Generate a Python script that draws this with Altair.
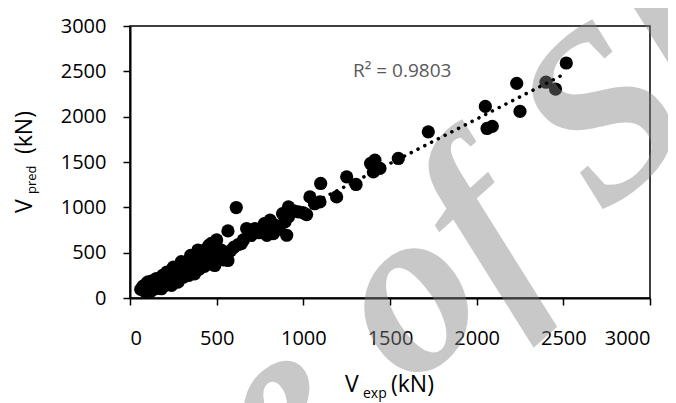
import altair as alt
import pandas as pd

# Experimental vs predicted shear strength (kN)
x_exp = [62, 75, 88, 95, 104, 112, 120, 128, 135, 145, 152, 160, 170, 181, 188, 195, 205, 212,
         220, 230, 240, 245, 250, 255, 265, 277, 285, 296, 300, 310, 320, 330, 340, 350, 350,
         360, 373, 378, 385, 392, 400, 410, 420, 430, 440, 450, 455, 460, 469, 475, 489, 495,
         500, 505, 515, 527, 540, 550, 565, 565, 580, 600, 613, 625, 642, 654, 673, 700, 721,
         745, 760, 775, 790, 798, 808, 827, 840, 860, 880, 894, 904, 914, 914, 945, 971, 1000,
         1019, 1038, 1065, 1096, 1100, 1192, 1250, 1304, 1388, 1404, 1413, 1442, 1548, 1721,
         2050, 2060, 2090, 2231, 2250, 2400, 2455, 2517]
v_pred = [95, 130, 70, 160, 178, 110, 75, 190, 140, 100, 215, 165, 120, 102, 250, 190, 140, 285,
          220, 170, 140, 310, 340, 250, 200, 175, 330, 400, 280, 230, 360, 300, 250, 420, 470,
          340, 267, 460, 390, 529, 320, 470, 400, 350, 540, 450, 580, 380, 602, 500, 359, 560,
          640, 430, 490, 527, 420, 470, 414, 740, 520, 560, 998, 590, 600, 640, 766, 690, 766,
          720, 760, 820, 690, 766, 858, 711, 800, 760, 930, 839, 692, 1005, 894, 960, 950, 940,
          920, 1115, 1040, 1060, 1263, 1115, 1336, 1252, 1484, 1391, 1520, 1429, 1539, 1833,
          2113, 1870, 1893, 2367, 2058, 2380, 2305, 2592]

tick_values = [0, 500, 1000, 1500, 2000, 2500, 3000]
r2_label = "R² = 0.9803"
watermark = "e of Sh"

df = pd.DataFrame({"x": x_exp, "y": v_pred})

FONT = "Open Sans"

xs = alt.X("x:Q", scale=alt.Scale(domain=[0, 3000], nice=False),
           axis=alt.Axis(values=tick_values, format="d", title=None, labelPadding=23))
ys = alt.Y("y:Q", scale=alt.Scale(domain=[0, 3000], nice=False),
           axis=alt.Axis(values=tick_values, format="d", title=None, labelPadding=17))

points = alt.Chart(df).mark_circle(size=175, color="black", opacity=1).encode(x=xs, y=ys)

trend = alt.Chart(df).transform_regression("x", "y").mark_line(
    color="black", strokeWidth=3.5, strokeDash=[0.1, 7.5], strokeCap="round"
).encode(x="x:Q", y="y:Q")

wm = alt.Chart(pd.DataFrame({"t": [watermark]})).mark_text(
    font="Liberation Serif", fontStyle="italic", fontWeight="bold", fontSize=240, angle=318,
    color="#838383", opacity=0.44, align="center", baseline="middle"
).encode(text="t:N", x=alt.value(366), y=alt.value(190))

def label(txt, x, y, size, angle=0, color="black"):
    return alt.Chart(pd.DataFrame({"t": [txt]})).mark_text(
        font=FONT, fontSize=size, align="left", baseline="alphabetic",
        angle=angle, color=color
    ).encode(text="t:N", x=alt.value(x), y=alt.value(y))

titles = [
    label("V", 215, 366, 23),
    label("exp", 233, 372, 14),
    label("(kN)", 261, 366, 23),
    label("V", -98, 187, 23, angle=270),
    label("pred", -94, 168, 13, angle=270),
    label("(kN)", -98, 128, 23, angle=270),
    label(r2_label, 223, 51, 19, color="#595959"),
]

chart = alt.layer(points, wm, trend, *titles).properties(
    width=520, height=272,
    padding={"left": 122, "top": 18, "right": 18, "bottom": 105},
    autosize=alt.AutoSizeParams(type="none"),
).configure_view(stroke="black", strokeWidth=1.5).configure_axis(
    labelFont=FONT, labelFontSize=20, labelColor="black",
    domainColor="black", domainWidth=2, tickColor="black", tickWidth=1.5,
    tickSize=7, grid=False
)

chart.save("out.html", embed_options={"renderer": "svg", "actions": False})
